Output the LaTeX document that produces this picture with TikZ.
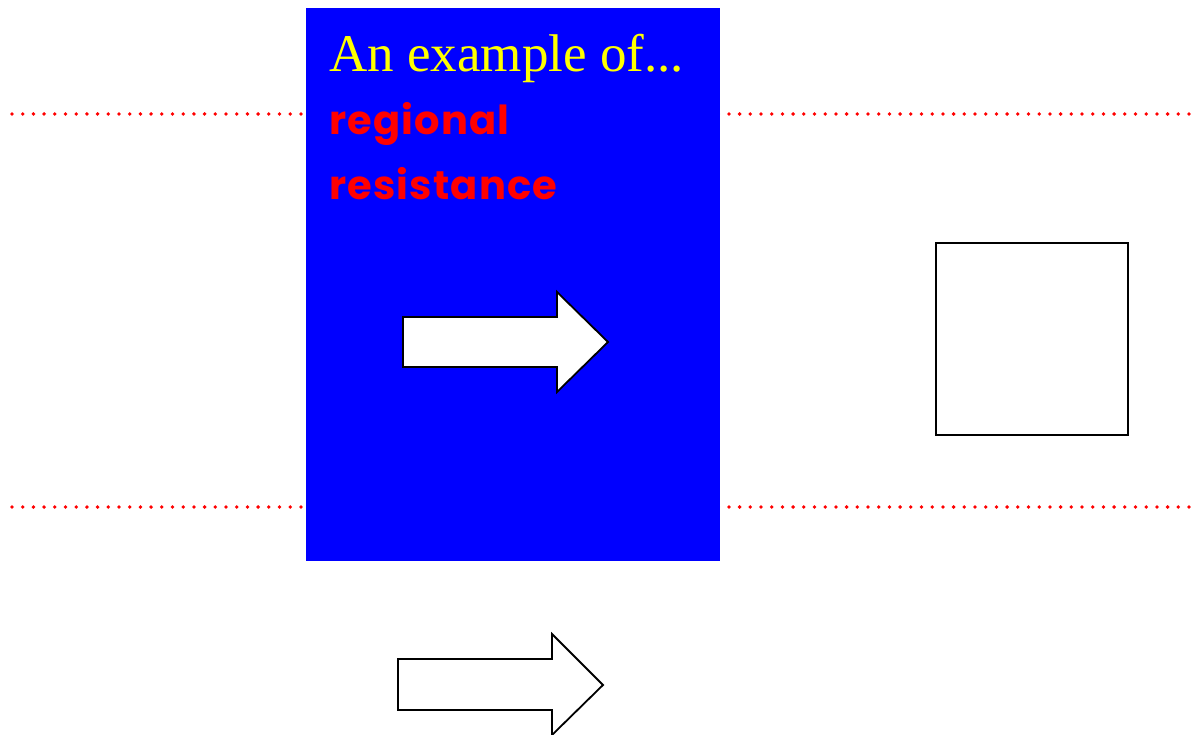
\documentclass[tikz,border=0pt]{standalone}
\usepackage{fontspec}
\setmainfont{Liberation Serif}
\newfontfamily\roundfont[LetterSpace=3]{Poppins}
\definecolor{panelblue}{RGB}{0,0,255}
\definecolor{dotred}{RGB}{255,0,0}
\definecolor{titleyellow}{RGB}{255,255,0}
\begin{document}
\begin{tikzpicture}[x=1pt,y=-1pt,
  dotline/.style={dotred, line width=3.8pt, line cap=round, dash pattern=on 0pt off 10.7pt},
  panel/.style={fill=panelblue, draw=none},
  blockarrow/.style={fill=white, draw=black, line width=1.8pt, line join=miter},
  plainbox/.style={fill=white, draw=black, line width=1.8pt},
  title/.style={anchor=base west, inner sep=0pt, text=titleyellow, font=\fontsize{53}{60}\selectfont},
  keyword/.style={anchor=base west, inner sep=0pt, text=dotred, font=\roundfont\bfseries\fontsize{40}{46}\selectfont}]
\useasboundingbox (0,0) rectangle (1197,735);
% dotted guide lines
\coordinate (u1) at (12,114);
\coordinate (u2) at (1193,114);
\coordinate (l1) at (12,507);
\coordinate (l2) at (1193,507);
\draw[dotline] (u1) -- (u2);
\draw[dotline] (l1) -- (l2);
% blue panel
\fill[panel] (306,8) rectangle (720,561);
\node[title] (t1) at (329,72) {An example of...};
\node[keyword] (t2) at (329,135) {regional};
\node[keyword] (t3) at (329,200) {resistance};
% block arrows
\draw[blockarrow] (403,317) -- (557,317) -- (557,292) -- (608,342) -- (557,392) -- (557,367) -- (403,367) -- cycle;
\draw[blockarrow] (398,659) -- (552,659) -- (552,634) -- (603,685) -- (552,735) -- (552,710) -- (398,710) -- cycle;
% empty square
\draw[plainbox] (936,243) rectangle (1128,435);
\end{tikzpicture}
\end{document}
